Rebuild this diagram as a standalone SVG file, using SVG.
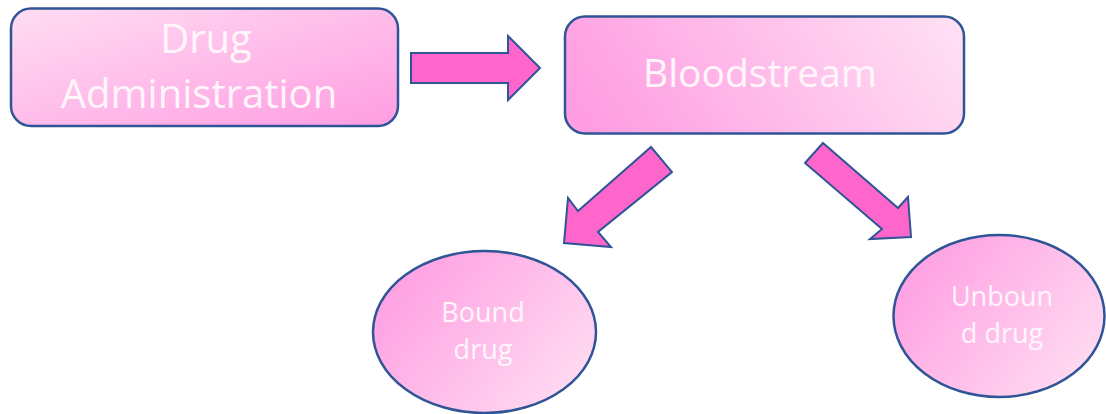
<svg xmlns="http://www.w3.org/2000/svg" width="1106" height="414" viewBox="0 0 1106 414">
<defs>
<linearGradient id="g1" x1="0" y1="0" x2="1" y2="1">
<stop offset="0" stop-color="#FFDDF2"/>
<stop offset="1" stop-color="#FF9DE2"/>
</linearGradient>
<linearGradient id="g2" x1="0" y1="0.6" x2="1" y2="0.4">
<stop offset="0" stop-color="#FF9DE2"/>
<stop offset="1" stop-color="#FFDDF2"/>
</linearGradient>
<linearGradient id="g3" x1="0" y1="0.2" x2="1" y2="0.8">
<stop offset="0" stop-color="#FF9DE2"/>
<stop offset="1" stop-color="#FFDDF2"/>
</linearGradient>
</defs>
<style>
.node{stroke:#2F5597;stroke-width:2.5}
.arrow{fill:#FF66CC;stroke:#2F5597;stroke-width:2;stroke-linejoin:miter}
.t{font-family:"Open Sans","Noto Sans","Liberation Sans",sans-serif;fill:#FFF6FC;text-anchor:middle}
.big{font-size:39px}
.big2{font-size:40px}
.small{font-size:27px}
</style>
<g id="connectors">
<polygon class="arrow" points="411,53 508,53 508,36 540,68 508,100 508,83 411,83"/>
<polygon class="arrow" points="651,147 672,172 598,232 611,247 564,243 568,198 578,211"/>
<polygon class="arrow" points="823,143 898,208 908,197 911,237 870,239 882,229 805,163"/>
</g>
<g id="drug-administration">
<rect class="node" x="11" y="8.5" width="387" height="117.5" rx="20" fill="url(#g1)"/>
<text class="t big2" x="206" y="53">Drug</text>
<text class="t big2" x="199" y="108">Administration</text>
</g>
<g id="bloodstream">
<rect class="node" x="565" y="16.5" width="399" height="117" rx="20" fill="url(#g2)"/>
<text class="t big" x="760" y="87">Bloodstream</text>
</g>
<g id="bound-drug">
<ellipse class="node" cx="484.5" cy="332" rx="111.5" ry="81" fill="url(#g3)"/>
<text class="t small" x="483" y="322">Bound</text>
<text class="t small" x="483" y="359">drug</text>
</g>
<g id="unbound-drug">
<ellipse class="node" cx="999" cy="316" rx="105.5" ry="81" fill="url(#g3)"/>
<text class="t small" x="1002" y="306">Unboun</text>
<text class="t small" x="1002" y="343">d drug</text>
</g>
</svg>
